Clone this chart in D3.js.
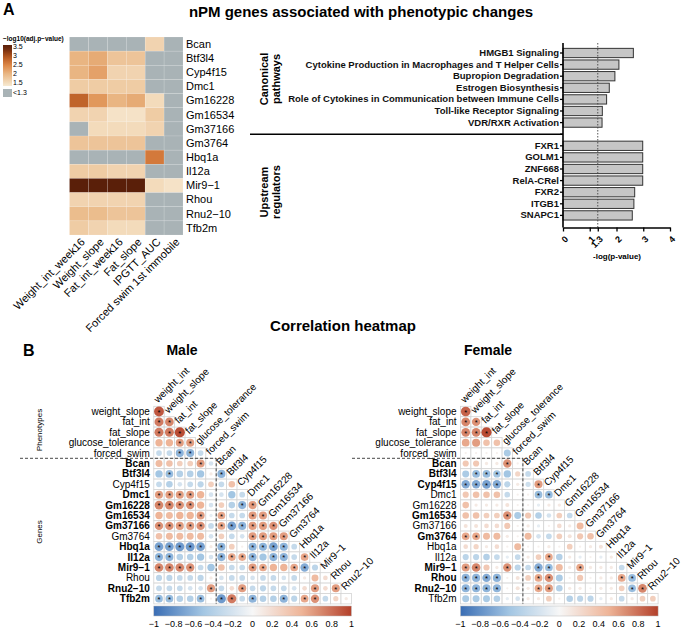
<!DOCTYPE html>
<html>
<head>
<meta charset="utf-8">
<script src="https://cdn.jsdelivr.net/npm/d3@7"></script>
<style>
  body { margin: 0; background: #fff; }
  svg { font-family: "Liberation Sans", Arial, Helvetica, sans-serif; }
</style>
</head>
<body>
<div id="chart"></div>
<script>
// ---------- data: panel A heatmap (-log10 adj p, null = <1.3) ----------
var heatGenes = ["Bcan", "Btf3l4", "Cyp4f15", "Dmc1", "Gm16228", "Gm16534", "Gm37166",
  "Gm3764", "Hbq1a", "Il12a", "Mir9\u22121", "Rhou", "Rnu2\u221210", "Tfb2m"];
var heatTraits = ["Weight_int_week16", "Weight_slope", "Fat_int_week16", "Fat_slope",
  "IPGTT_AUC", "Forced swim 1st immobile"];
var heatValues = [
  [null, null, null, null, 1.6, null],
  [2.0, 2.1, 1.8, 1.8, null, null],
  [2.0, 2.2, 1.6, 1.6, null, null],
  [1.7, 1.7, 1.7, 1.7, null, null],
  [2.8, 2.3, 2.0, 2.1, 1.5, null],
  [1.6, 1.6, 1.4, 1.4, 1.7, null],
  [null, 1.5, 1.5, 1.5, 1.6, null],
  [1.8, 1.8, 1.8, 1.8, null, null],
  [null, null, null, null, 2.6, null],
  [1.7, 1.7, 1.6, 1.6, null, null],
  [3.5, 3.5, 3.5, 3.5, 1.5, 1.4],
  [1.6, 1.6, 1.6, 1.6, null, null],
  [1.9, 1.9, 1.8, 1.8, null, null],
  [1.7, 1.6, 1.5, 1.5, null, null]
];
var heatLegendTicks = [1.5, 2, 2.5, 3, 3.5];

// ---------- data: panel A bars ----------
var pathwayNames = ["HMGB1 Signaling", "Cytokine Production in Macrophages and T Helper Cells",
  "Bupropion Degradation", "Estrogen Biosynthesis",
  "Role of Cytokines in Communication between Immune Cells",
  "Toll-like Receptor Signaling", "VDR/RXR Activation"];
var pathwayValues = [2.63, 2.09, 1.94, 1.73, 1.63, 1.47, 1.46];
var regulatorNames = ["FXR1", "GOLM1", "ZNF668", "RelA-CRel", "FXR2", "ITGB1", "SNAPC1"];
var regulatorValues = [2.98, 2.98, 2.98, 2.98, 2.68, 2.65, 2.59];
var barTicks = [0, 1, 1.3, 2, 3, 4];
var pThreshold = 1.3;

// ---------- data: panel B correlations (lower triangle rows) ----------
var corrVars = ["weight_int", "weight_slope", "fat_int", "fat_slope", "glucose_tolerance",
  "forced_swim", "Bcan", "Btf3l4", "Cyp4f15", "Dmc1", "Gm16228", "Gm16534", "Gm37166",
  "Gm3764", "Hbq1a", "Il12a", "Mir9\u22121", "Rhou", "Rnu2\u221210", "Tfb2m"];

var maleCorr = [
  [0.9],
  [0.75, 0.7],
  [0.75, 0.75, 0.95],
  [0.5, 0.5, 0.6, 0.6],
  [-0.3, -0.3, -0.6, -0.6, -0.3],
  [0.45, 0.4, 0.3, 0.3, 0.6, -0.2],
  [-0.5, -0.55, -0.4, -0.4, -0.5, 0.1, -0.6],
  [-0.3, -0.4, -0.2, -0.3, -0.35, 0.3, -0.3, 0.4],
  [0.6, 0.6, 0.6, 0.6, 0.5, -0.2, -0.2, -0.5, -0.3],
  [0.7, 0.7, 0.65, 0.65, 0.5, -0.2, 0.3, -0.4, -0.6, 0.6],
  [0.5, 0.45, 0.5, 0.5, 0.6, -0.1, 0.55, -0.3, -0.3, 0.6, 0.6],
  [0.65, 0.65, 0.6, 0.6, 0.65, -0.3, 0.55, -0.7, -0.6, 0.6, 0.6, 0.65],
  [0.4, 0.45, 0.45, 0.45, 0.45, -0.2, 0.3, -0.3, -0.2, 0.6, 0.6, 0.6, 0.6],
  [-0.7, -0.7, -0.75, -0.75, -0.7, 0.1, -0.6, 0.3, 0.05, -0.6, -0.6, -0.7, -0.6, -0.3],
  [-0.6, -0.6, -0.4, -0.4, -0.5, -0.2, -0.6, 0.55, 0.55, -0.6, -0.5, -0.6, -0.6, -0.3, 0.55],
  [0.7, 0.7, 0.7, 0.65, -0.3, -0.5, 0.4, -0.3, -0.3, 0.6, 0.55, 0.5, 0.5, 0.55, -0.65, -0.35],
  [-0.35, -0.35, -0.3, -0.3, -0.35, 0.1, -0.2, -0.3, -0.3, -0.2, -0.3, -0.3, -0.2, -0.3, 0.1, 0.45, 0.2],
  [-0.3, -0.3, -0.3, -0.2, -0.2, 0.6, -0.3, 0.2, 0.6, -0.3, -0.35, -0.3, -0.3, -0.2, 0.2, 0.6, 0.2, 0.6],
  [-0.55, -0.55, -0.4, -0.4, -0.55, 0.05, -0.75, 0.75, -0.3, -0.6, -0.4, -0.4, -0.6, -0.35, 0.55, 0.65, -0.3, 0.25, 0.1]
];
// column indices marked with * in each row
var maleStars = [
  [0], [0, 1], [0, 1, 2], [2, 3], [2, 3], [4], [1, 6], [], [0, 1, 2, 3],
  [0, 1, 2, 3, 8, 9], [4, 6, 9, 10], [0, 1, 2, 3, 4, 6, 7, 8, 9, 10, 11], [9, 10, 11, 12],
  [0, 1, 2, 3, 4, 6, 9, 10, 11, 12], [0, 1, 6, 7, 8, 9, 11, 12, 14],
  [0, 1, 2, 3, 9, 10, 13, 14], [], [5, 8, 15, 17], [0, 1, 4, 6, 7, 9, 12, 14, 15]
];
var maleBold = ["Bcan", "Btf3l4", "Dmc1", "Gm16228", "Gm16534", "Gm37166", "Hbq1a",
  "Il12a", "Mir9\u22121", "Rnu2\u221210", "Tfb2m"];

var femaleCorr = [
  [0.85],
  [0.7, 0.65],
  [0.7, 0.7, 0.95],
  [0.55, 0.6, 0.4, 0.4],
  [0.05, 0.05, 0.05, 0.05, -0.45],
  [0.35, 0.35, 0.1, 0.1, 0.65, 0.05],
  [-0.45, -0.55, -0.55, -0.5, -0.5, 0.25, -0.3],
  [-0.65, -0.65, -0.7, -0.65, -0.35, 0.1, -0.25, 0.6],
  [0.35, 0.4, 0.4, 0.4, -0.3, 0.05, 0.05, -0.55, -0.55],
  [0.4, 0.1, 0.1, 0.1, 0.15, 0.05, 0.05, -0.1, 0.1, 0.1],
  [0.4, 0.4, 0.3, 0.3, 0.65, -0.45, 0.35, -0.4, -0.2, 0.3, -0.3],
  [0.15, 0.15, 0.2, 0.2, 0.35, 0.05, 0.1, -0.1, 0.05, 0.2, 0.1, 0.45],
  [0.55, 0.55, 0.45, 0.45, 0.1, 0.05, 0.45, -0.2, -0.3, 0.3, 0.15, 0.35, 0.4],
  [0.2, 0.25, 0.1, 0.2, 0.05, 0.45, 0.05, 0.05, 0.1, 0.05, 0.3, 0.05, 0.1, 0.15],
  [-0.35, -0.35, -0.4, -0.3, -0.1, -0.3, 0.1, 0.3, 0.55, -0.4, 0.1, -0.1, 0.05, -0.1, 0.1],
  [0.6, 0.7, 0.35, 0.1, 0.65, -0.35, -0.3, -0.65, -0.55, 0.45, 0.1, 0.55, 0.1, 0.1, 0.1, -0.3],
  [-0.6, -0.6, -0.65, -0.6, 0.05, 0.15, 0.3, 0.55, 0.65, -0.45, 0.05, 0.35, 0.05, 0.1, 0.1, 0.55, -0.55],
  [-0.6, -0.6, -0.6, -0.6, 0.05, 0.15, 0.1, 0.55, 0.6, -0.4, 0.1, 0.1, 0.05, 0.1, 0.1, 0.3, -0.55, 0.7],
  [-0.45, -0.45, -0.45, -0.4, -0.1, -0.2, 0.1, 0.1, 0.3, 0.05, -0.4, -0.35, -0.35, -0.1, 0.1, -0.3, 0.1, 0.3, 0.3]
];
var femaleStars = [
  [0], [0, 1], [0, 1, 2], [], [], [4], [1, 2, 3], [0, 1, 2, 3, 7], [7, 8], [], [4], [],
  [0, 1], [], [8], [0, 1, 4, 7, 8, 11], [0, 1, 2, 3, 7, 8, 15, 16],
  [0, 1, 2, 3, 7, 8, 16, 17], []
];
var femaleBold = ["Bcan", "Btf3l4", "Cyp4f15", "Gm16534", "Gm3764", "Mir9\u22121",
  "Rhou", "Rnu2\u221210"];
var corrTicks = [-1, -0.8, -0.6, -0.4, -0.2, 0, 0.2, 0.4, 0.6, 0.8, 1];

// ---------- svg ----------
var svgWidth = 685;
var svgHeight = 629;
var svg = d3.select("#chart")
  .append("svg")
  .attr("width", svgWidth)
  .attr("height", svgHeight);
var defs = svg.append("defs");

// titles
svg.append("text").attr("x", 3).attr("y", 15)
  .attr("font-size", 16).attr("font-weight", "bold").text("A");
svg.append("text").attr("x", 361).attr("y", 17).attr("text-anchor", "middle")
  .attr("font-size", 15).attr("font-weight", "bold")
  .text("nPM genes associated with phenotypic changes");

// ---------- panel A: heatmap ----------
var heatX = d3.scaleBand().domain(heatTraits).range([69.5, 183]);
var heatY = d3.scaleBand().domain(heatGenes).range([37, 235]);
var heatColor = d3.scaleLinear()
  .domain([1.3, 2, 2.5, 3, 3.5])
  .range(["#f7ead2", "#e9b582", "#dc8443", "#ad4f1b", "#5a1f09"]);
var greyCell = "#a9b3b6";

var heatG = svg.append("g");
heatValues.forEach(function(row, i) {
  row.forEach(function(v, j) {
    heatG.append("rect")
      .attr("x", heatX(heatTraits[j]))
      .attr("y", heatY(heatGenes[i]))
      .attr("width", heatX.bandwidth())
      .attr("height", heatY.bandwidth())
      .attr("fill", v === null ? greyCell : heatColor(v))
      .attr("stroke", "#ffffff").attr("stroke-opacity", 0.25).attr("stroke-width", 0.5);
  });
});

heatG.selectAll(".rowLab")
  .data(heatGenes).enter()
  .append("text")
  .attr("x", 186)
  .attr("y", d => heatY(d) + heatY.bandwidth() / 2)
  .attr("dy", "0.35em")
  .attr("font-size", 11)
  .text(d => d);

heatG.selectAll(".colLab")
  .data(heatTraits).enter()
  .append("text")
  .attr("transform", d => `translate(${heatX(d) + heatX.bandwidth() / 2 + 4}, 240) rotate(-45)`)
  .attr("text-anchor", "end")
  .attr("dy", "0.35em")
  .attr("font-size", 11)
  .text(d => d);

// legend
var legG = svg.append("g");
legG.append("text").attr("x", 3).attr("y", 41)
  .attr("font-size", 6.5).attr("font-weight", "bold").text("\u2212log10(adj.p\u2212value)");
var legScale = d3.scaleLinear().domain([1.3, 3.6]).range([86, 45]);
var grad = defs.append("linearGradient")
  .attr("id", "heatGrad").attr("x1", 0).attr("x2", 0).attr("y1", 1).attr("y2", 0);
d3.range(0, 11).forEach(function(k) {
  var v = 1.3 + (3.6 - 1.3) * k / 10;
  grad.append("stop").attr("offset", k / 10).attr("stop-color", heatColor(Math.min(v, 3.5)));
});
legG.append("rect").attr("x", 3).attr("y", 45).attr("width", 9).attr("height", 41)
  .attr("fill", "url(#heatGrad)");
legG.selectAll(".legT")
  .data(heatLegendTicks).enter()
  .append("text")
  .attr("x", 13)
  .attr("y", d => legScale(d))
  .attr("dy", "0.35em")
  .attr("font-size", 7)
  .text(d => d);
legG.append("rect").attr("x", 3).attr("y", 89).attr("width", 9).attr("height", 8)
  .attr("fill", greyCell);
legG.append("text").attr("x", 13).attr("y", 93).attr("dy", "0.35em")
  .attr("font-size", 7).text("<1.3");

// ---------- panel A: bars ----------
var barNames = pathwayNames.concat(["gap"], regulatorNames);
var barVals = pathwayValues.concat([0], regulatorValues);
var xB = d3.scaleLinear().domain([0, 4]).range([563, 670]);
var yB = d3.scaleBand().domain(barNames).range([47.2, 221.2]).paddingInner(0.2).paddingOuter(0.1);

var barG = svg.append("g");
barG.selectAll(".bar")
  .data(barNames.filter(d => d !== "gap")).enter()
  .append("rect")
  .attr("x", xB(0))
  .attr("y", d => yB(d))
  .attr("width", d => xB(barVals[barNames.indexOf(d)]) - xB(0))
  .attr("height", yB.bandwidth())
  .attr("fill", "#c6c6c6")
  .attr("stroke", "#333")
  .attr("stroke-width", 1);

var yAxisB = barG.append("g")
  .attr("transform", `translate(${xB(0)},0)`)
  .call(d3.axisLeft(yB).tickSize(3).tickFormat(d => d === "gap" ? "" : d));
yAxisB.select(".domain").remove();
yAxisB.selectAll("text").attr("font-size", 9.5).attr("font-weight", "bold")
  .attr("fill", "#111").attr("x", -4);
yAxisB.selectAll("line").attr("stroke-width", 1.3);
barG.append("line").attr("x1", xB(0)).attr("x2", xB(0)).attr("y1", 43).attr("y2", 227.5)
  .attr("stroke", "#000").attr("stroke-width", 1.6);

var xAxisB = barG.append("g")
  .attr("transform", "translate(0,227.5)")
  .call(d3.axisBottom(xB).tickValues(barTicks).tickSize(4).tickSizeOuter(0)
    .tickFormat(d => d));
xAxisB.select(".domain").attr("stroke-width", 1.6);
xAxisB.selectAll("line").attr("stroke-width", 1.3);
xAxisB.selectAll("text")
  .attr("font-size", 9).attr("font-weight", "bold")
  .attr("text-anchor", "end")
  .attr("dy", "0.35em")
  .attr("transform", "translate(3,10) rotate(-45)")
  .attr("y", 0).attr("x", 0);
barG.append("text").attr("x", 617).attr("y", 259).attr("text-anchor", "middle")
  .attr("font-size", 8).attr("font-weight", "bold").text("-log(p-value)");

barG.append("line").attr("x1", xB(pThreshold)).attr("x2", xB(pThreshold))
  .attr("y1", 43).attr("y2", 227)
  .attr("stroke", "#444").attr("stroke-width", 0.9).attr("stroke-dasharray", "1.5,1.5");

var gapY = yB("gap") + yB.bandwidth() / 2;
barG.append("line").attr("x1", 250).attr("x2", xB(0)).attr("y1", gapY).attr("y2", gapY)
  .attr("stroke", "#000").attr("stroke-width", 1.5);

[["Canonical", "pathways", 79], ["Upstream", "regulators", 192]].forEach(function(g) {
  barG.append("text").attr("transform", `translate(268,${g[2]}) rotate(-90)`)
    .attr("text-anchor", "middle").attr("font-size", 11).attr("font-weight", "bold").text(g[0]);
  barG.append("text").attr("transform", `translate(280,${g[2]}) rotate(-90)`)
    .attr("text-anchor", "middle").attr("font-size", 11).attr("font-weight", "bold").text(g[1]);
});

// ---------- panel B ----------
svg.append("text").attr("x", 23).attr("y", 356)
  .attr("font-size", 16).attr("font-weight", "bold").text("B");
svg.append("text").attr("x", 343).attr("y", 331).attr("text-anchor", "middle")
  .attr("font-size", 15).attr("font-weight", "bold").text("Correlation  heatmap");

var corrColor = d3.scaleLinear()
  .domain([-1, -0.5, 0, 0.5, 1])
  .range(["#3a6db4", "#a3c6e3", "#f7f7f7", "#eeb497", "#b3402a"]);

var cbGrad = defs.append("linearGradient")
  .attr("id", "corrGrad").attr("x1", 0).attr("x2", 1).attr("y1", 0).attr("y2", 0);
d3.range(0, 21).forEach(function(k) {
  cbGrad.append("stop").attr("offset", k / 20).attr("stop-color", corrColor(-1 + k / 10));
});

var cell = 10.4;
var gridTop = 406.3;

function drawCorr(left, lineStart, title, titleX, values, stars, boldList, clipLeft, clipId) {
  var g = svg.append("g");
  if (clipLeft !== null) {
    defs.append("clipPath").attr("id", clipId)
      .append("rect").attr("x", clipLeft).attr("y", 0).attr("width", 400).attr("height", svgHeight);
    g.attr("clip-path", `url(#${clipId})`);
  }
  var colVars = corrVars.slice(0, corrVars.length - 1);
  var rowVars = corrVars.slice(1);
  var cx = d3.scaleBand().domain(colVars).range([left, left + cell * colVars.length]);
  var cy = d3.scaleBand().domain(rowVars).range([gridTop, gridTop + cell * rowVars.length]);

  g.append("text").attr("x", titleX).attr("y", 355).attr("text-anchor", "middle")
    .attr("font-size", 14).attr("font-weight", "bold").text(title);

  values.forEach(function(row, i) {
    row.forEach(function(v, j) {
      g.append("rect").attr("x", cx(colVars[j])).attr("y", cy(rowVars[i]))
        .attr("width", cell).attr("height", cell)
        .attr("fill", "#fff").attr("stroke", "#d4d4d4").attr("stroke-width", 0.8);
    });
  });
  values.forEach(function(row, i) {
    row.forEach(function(v, j) {
      var px = cx(colVars[j]) + cell / 2, py = cy(rowVars[i]) + cell / 2;
      g.append("circle").attr("cx", px).attr("cy", py)
        .attr("r", cell * 0.5 * Math.sqrt(Math.abs(v)))
        .attr("fill", corrColor(v));
      if (stars[i].indexOf(j) >= 0) {
        g.append("text").attr("x", px).attr("y", py + 3.2)
          .attr("text-anchor", "middle").attr("font-size", 7.5).text("*");
      }
    });
  });

  // row labels
  g.selectAll(".rl").data(rowVars).enter()
    .append("text")
    .attr("x", left - 4)
    .attr("y", d => cy(d) + cell / 2)
    .attr("dy", "0.35em")
    .attr("text-anchor", "end")
    .attr("font-size", 10)
    .attr("font-weight", d => boldList.indexOf(d) >= 0 ? "bold" : "normal")
    .text(d => d);

  // diagonal column labels
  g.selectAll(".cl").data(colVars).enter()
    .append("text")
    .attr("transform", (d, j) => `translate(${cx(d) + cell / 2 - 1},${gridTop + j * cell - 3}) rotate(-45)`)
    .attr("font-size", 10)
    .text(d => d);

  // dashed separators
  var splitX = cx("Bcan");
  var splitY = cy("Bcan");
  g.append("line").attr("x1", lineStart).attr("x2", splitX)
    .attr("y1", splitY).attr("y2", splitY)
    .attr("stroke", "#333").attr("stroke-width", 0.9).attr("stroke-dasharray", "3,2");
  g.append("line").attr("x1", splitX).attr("x2", splitX)
    .attr("y1", splitY).attr("y2", gridTop + cell * rowVars.length)
    .attr("stroke", "#333").attr("stroke-width", 0.9).attr("stroke-dasharray", "3,2");

  // colour bar
  var cbScale = d3.scaleLinear().domain([-1, 1]).range([left, left + cell * colVars.length]);
  g.append("rect").attr("x", left).attr("y", 606)
    .attr("width", cell * colVars.length).attr("height", 10)
    .attr("fill", "url(#corrGrad)").attr("stroke", "#bbb").attr("stroke-width", 0.5);
  g.selectAll(".cbt").data(corrTicks).enter()
    .append("text")
    .attr("x", d => cbScale(d))
    .attr("y", 627)
    .attr("text-anchor", "middle")
    .attr("font-size", 9)
    .text(d => d < 0 ? "\u2212" + Math.abs(d) : d);
  return g;
}

drawCorr(153.8, 20, "Male", 182, maleCorr, maleStars, maleBold, null, null);
drawCorr(460.5, 352, "Female", 488, femaleCorr, femaleStars, femaleBold, 351, "femClip");

// side labels (male panel only)
svg.append("text").attr("transform", "translate(42,430) rotate(-90)")
  .attr("text-anchor", "middle").attr("font-size", 8).text("Phenotypes");
svg.append("text").attr("transform", "translate(42,532) rotate(-90)")
  .attr("text-anchor", "middle").attr("font-size", 8).text("Genes");
</script>
</body>
</html>
